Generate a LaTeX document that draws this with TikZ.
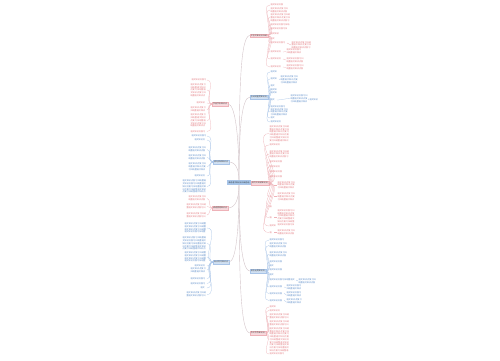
\documentclass[tikz,border=0pt]{standalone}
\usepackage{fontspec}
\newfontfamily\cjk{Noto Sans CJK SC}
\XeTeXlinebreaklocale "zh"
\XeTeXlinebreakskip=0pt plus 0.5pt
\definecolor{pinktxt}{RGB}{226,118,124}
\definecolor{bluetxt}{RGB}{88,138,200}
\definecolor{pinkfill}{RGB}{248,218,222}
\definecolor{bluefill}{RGB}{208,224,242}
\definecolor{rootfill}{RGB}{168,200,236}
\definecolor{pinkline}{RGB}{238,178,184}
\definecolor{blueline}{RGB}{168,196,232}
\definecolor{trunkline}{RGB}{212,198,202}
\newcount\fc \newcount\fk
% filler text: width in pt, number of lines
\newcommand\filler[2]{\fc=0 \fk=0 \loop\ifcase\fk 语\or 文\or 知\or 识\or 点\or 复\or 习\or 归\or 纳\or 整\fi\advance\fk by 1 \ifnum\fk>9 \fk=0 \fi\advance\fc by 1 \ifnum\fc<\numexpr#2*((#1*10-11)/21)\relax\repeat}
\tikzset{
    leaf/.style={font=\cjk\fontsize{2.1}{2.75}\selectfont, inner sep=0.3pt, align=left},
    pleaf/.style={leaf, text=pinktxt},
    bleaf/.style={leaf, text=bluetxt},
    branch/.style={font=\cjk\fontsize{2}{2.4}\selectfont, inner sep=0.8pt, text=black!75, line width=0.2pt},
    pbranch/.style={branch, fill=pinkfill, draw=pinkline},
    bbranch/.style={branch, fill=bluefill, draw=blueline},
    pcon/.style={draw=pinkline, line width=0.25pt},
    bcon/.style={draw=blueline, line width=0.25pt},
    trunk/.style={draw=trunkline, line width=0.4pt}
}
\begin{document}
\begin{tikzpicture}[x=1pt, y=-1pt]
    \useasboundingbox[fill=white] (0,0) rectangle (500,360);
    % root and main branches
    \node[font=\cjk\fontsize{1.9}{2.3}\selectfont, fill=rootfill, draw=blueline, inner sep=1.2pt, text=black!80] (c) at (239,182.5) {高考语文知识点归纳总结};
    \node[pbranch, anchor=west] (r1) at (250,35.5) {文言文知识点归纳};
    \node[bbranch, anchor=west] (r2) at (250,97) {古诗词鉴赏知识点};
    \node[pbranch, anchor=west] (r3) at (251,183) {现代文阅读知识点};
    \node[bbranch, anchor=west] (r4) at (250,271) {语言运用知识点};
    \node[pbranch, anchor=west] (r5) at (250,333) {作文写作知识点};
    \node[pbranch, anchor=east] (l1) at (228,104) {字音字形知识点};
    \node[bbranch, anchor=east] (l2) at (229,162) {病句修改知识点};
    \node[pbranch, anchor=east] (l3) at (228,208) {成语使用知识点};
    \node[bbranch, anchor=east] (l4) at (229,262) {标点符号知识点};

    \draw[trunk] (c.north) .. controls +(0,-100) and +(-9,0) .. (r1.west);
    \draw[trunk] (c.north) .. controls +(0,-45) and +(-9,0) .. (r2.west);
    \draw[trunk] (c.east) -- (r3.west);
    \draw[trunk] (c.south) .. controls +(0,45) and +(-9,0) .. (r4.west);
    \draw[trunk] (c.south) .. controls +(0,100) and +(-9,0) .. (r5.west);
    \draw[trunk] (c.north) .. controls +(0,-45) and +(7,0) .. (l1.east);
    \draw[trunk] (c.north) .. controls +(0,-10) and +(7,0) .. (l2.east);
    \draw[trunk] (c.south) .. controls +(0,15) and +(7,0) .. (l3.east);
    \draw[trunk] (c.south) .. controls +(0,45) and +(7,0) .. (l4.east);

    % right side leaves
    \foreach \y/\w/\n [count=\i] in {5/14/1, 10/18/2, 17.5/20/3, 25/20/1, 29/18/1, 34/10/1, 39/5/1, 43/16/1, 52/12/1, 59/12/1, 67/12/1} {
        \node[pleaf, text width=\w pt, anchor=west] (r1-\i) at (270,\y) {\filler{\w}{\n}};
        \draw[pcon] (r1.east) to[out=0,in=180] (r1-\i.west);
    }
    \foreach \p/\x/\y/\w/\n in {8/291/45/20/3, 9/286/51.5/15/2, 10/286/60/17/2, 11/286/67.5/17/2} {
        \node[pleaf, text width=\w pt, anchor=west] (r1-\p-s) at (\x,\y) {\filler{\w}{\n}};
        \draw[pcon] (r1-\p.east) to[out=0,in=180] (r1-\p-s.west);
    }
    \foreach \y/\w/\n [count=\i] in {72/8/1, 79/8/1, 86/6/1, 90/8/1, 93/8/1, 100/6/1, 107/16/1, 112/18/3, 118/6/1, 122/12/1} {
        \node[bleaf, text width=\w pt, anchor=west] (r2-\i) at (270,\y) {\filler{\w}{\n}};
        \draw[bcon] (r2.east) to[out=0,in=180] (r2-\i.west);
    }
    \foreach \p/\x/\y/\w/\n in {2/280/79.5/18/3, 6/290/98.5/17/3} {
        \node[bleaf, text width=\w pt, anchor=west] (r2-\p-s) at (\x,\y) {\filler{\w}{\n}};
        \draw[bcon] (r2-\p.east) to[out=0,in=180] (r2-\p-s.west);
    }
    \node[bleaf, text width=10pt, anchor=west] (r2-6-t) at (309,100) {\filler{10}{1}};
    \draw[bcon] (r2-6-s.east) to[out=0,in=180] (r2-6-t.west);
    \foreach \y/\w/\n [count=\i] in {133.5/20/6, 145/12/1, 154/20/3, 162/14/1, 167/12/1, 172/14/1, 177/14/1, 185/4/1, 196.5/4/1, 207/4/1, 217.5/4/1, 226/8/1, 232.5/4/1} {
        \node[pleaf, text width=\w pt, anchor=west] (r3-\i) at (269,\y) {\filler{\w}{\n}};
        \draw[pcon] (r3.east) to[out=0,in=180] (r3-\i.west);
    }
    \foreach \p/\x/\y/\w/\n in {8/277/185/18/3, 9/277/196.5/18/3, 11/277/217.5/17/6, 13/277/232.5/18/2} {
        \node[pleaf, text width=\w pt, anchor=west] (r3-\p-s) at (\x,\y) {\filler{\w}{\n}};
        \draw[pcon] (r3-\p.east) to[out=0,in=180] (r3-\p-s.west);
    }
    \foreach \y/\w/\n [count=\i] in {240/16/1, 245.5/18/2, 254.5/18/2, 262/14/1, 265.5/6/1, 270/14/1, 275/6/1, 280/26/1, 287/14/1, 293.5/14/1, 300.5/14/1} {
        \node[bleaf, text width=\w pt, anchor=west] (r4-\i) at (269,\y) {\filler{\w}{\n}};
        \draw[bcon] (r4.east) to[out=0,in=180] (r4-\i.west);
    }
    \foreach \p/\x/\y/\w/\n in {8/298/281/18/2, 9/286/287.5/15/2, 10/286/294.5/15/2, 11/286/301.5/16/2} {
        \node[bleaf, text width=\w pt, anchor=west] (r4-\p-s) at (\x,\y) {\filler{\w}{\n}};
        \draw[bcon] (r4-\p.east) to[out=0,in=180] (r4-\p-s.west);
    }
    \foreach \y/\w/\n [count=\i] in {307/8/1, 310.5/12/1, 316/20/2, 323.5/20/2, 339.5/20/9, 354/16/1} {
        \node[pleaf, text width=\w pt, anchor=west] (r5-\i) at (269,\y) {\filler{\w}{\n}};
        \draw[pcon] (r5.east) to[out=0,in=180] (r5-\i.west);
    }

    % left side leaves
    \foreach \y/\w/\n [count=\i] in {80/15/1, 90/16/5, 103/10/1, 109.5/16/2, 120.5/16/5, 131.5/16/1} {
        \node[pleaf, text width=\w pt, anchor=east] (l1-\i) at (207,\y) {\filler{\w}{\n}};
        \draw[pcon] (l1.west) to[out=180,in=0] (l1-\i.east);
    }
    \foreach \y/\w/\n [count=\i] in {136/15/1, 140/12/1, 149.5/18/2, 157.5/18/2, 166.5/18/3, 176/12/1, 186.5/24/5} {
        \node[bleaf, text width=\w pt, anchor=east] (l2-\i) at (207,\y) {\filler{\w}{\n}};
        \draw[bcon] (l2.west) to[out=180,in=0] (l2-\i.east);
    }
    \foreach \y/\w/\n [count=\i] in {198.5/18/2, 206.5/20/2, 215/20/2} {
        \node[pleaf, text width=\w pt, anchor=east] (l3-\i) at (207,\y) {\filler{\w}{\n}};
        \draw[pcon] (l3.west) to[out=180,in=0] (l3-\i.east);
    }
    \foreach \y/\w/\n [count=\i] in {228/22/4, 243.5/24/5, 257/22/4, 266/12/1, 270/16/2, 278.5/16/1, 283.5/16/1, 288/6/1, 294.5/20/2} {
        \node[bleaf, text width=\w pt, anchor=east] (l4-\i) at (207,\y) {\filler{\w}{\n}};
        \draw[bcon] (l4.west) to[out=180,in=0] (l4-\i.east);
    }
\end{tikzpicture}
\end{document}
